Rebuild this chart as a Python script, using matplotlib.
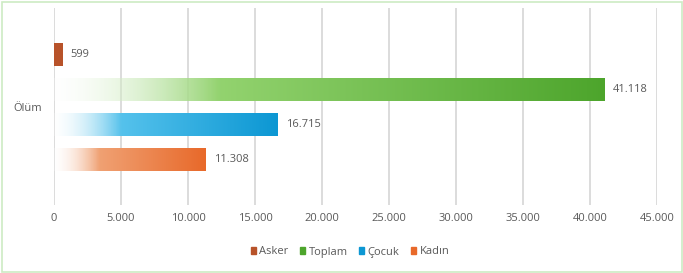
import numpy as np
import matplotlib.pyplot as plt
from matplotlib.colors import to_rgb
from matplotlib.patches import Rectangle

categories = ["Asker", "Toplam", "Çocuk", "Kadın"]
values = [599, 41118, 16715, 11308]
value_labels = ["599", "41.118", "16.715", "11.308"]
group_label = "Ölüm"
xticks = [0, 5000, 10000, 15000, 20000, 25000, 30000, 35000, 40000, 45000]
xtick_labels = ["0", "5.000", "10.000", "15.000", "20.000", "25.000",
                "30.000", "35.000", "40.000", "45.000"]

# light / dark end of each gradient
light_cols = ["#B8532A", "#93D36F", "#55C2EC", "#F0A173"]
dark_cols = ["#B8532A", "#4DA52C", "#0C97D3", "#E8692A"]

plt.rcParams['font.family'] = ['Open Sans', 'DejaVu Sans']

fig = plt.figure(figsize=(6.83, 2.73), dpi=100)
W, H = 683, 273
ax = fig.add_axes([54 / W, 1 - 205 / H, (657 - 54) / W, (205 - 8) / H])

ypos = [1.5, 0.5, -0.5, -1.5]
bh = 0.63

ax.set_xlim(0, 45000)
ax.set_ylim(-2.79, 2.84)

for v, y, lc, dc, name in zip(values, ypos, light_cols, dark_cols, categories):
    n = 256
    t = np.linspace(0, 1, n)
    lc_ = np.array(to_rgb(lc))
    dc_ = np.array(to_rgb(dc))
    img = np.zeros((1, n, 4))
    if name == "Asker":
        img[0, :, :3] = dc_
        img[0, :, 3] = 1
    else:
        for i, tt in enumerate(t):
            if tt < 0.3:
                f = tt / 0.3
                img[0, i, :3] = np.ones(3) * (1 - f) + lc_ * f
                img[0, i, 3] = 0.2 + 0.8 * f
            else:
                f = (tt - 0.3) / 0.7
                img[0, i, :3] = lc_ * (1 - f) + dc_ * f
                img[0, i, 3] = 1
    ax.imshow(img, extent=(0, v, y - bh / 2, y + bh / 2), aspect='auto',
              interpolation='bilinear', zorder=3)

for v, y, lab in zip(values, ypos, value_labels):
    ax.text(v + 600, y, lab, va='center', ha='left', fontsize=8, color='#595959')

ax.set_xticks(xticks)
ax.set_xticklabels(xtick_labels, fontsize=8, color='#595959')
ax.set_yticks([0])
ax.set_yticklabels([group_label], fontsize=8, color='#595959')
ax.tick_params(length=0, pad=6)
ax.tick_params(axis='y', pad=9)
ax.grid(axis='x', color='#D9D9D9', linewidth=1.3, zorder=0)
ax.set_axisbelow(True)
for s in ax.spines.values():
    s.set_visible(False)
ax.set_xlim(0, 45000)
ax.set_ylim(-2.79, 2.84)

handles = [Rectangle((0, 0), 1, 1, color=c) for c in dark_cols]
fig.legend(handles, categories, loc='center', bbox_to_anchor=(350 / W, 1 - 252 / H),
           ncol=4, frameon=False, fontsize=8, handlelength=0.5, handleheight=0.5,
           handletextpad=0.3, columnspacing=1.0, labelcolor='#595959')

fig.add_artist(Rectangle((1.5 / W, 1.5 / H), (W - 3) / W, (H - 3) / H,
                         transform=fig.transFigure, fill=False,
                         edgecolor='#CDEBC4', linewidth=1.2))

fig.savefig("out.png", dpi=100)
